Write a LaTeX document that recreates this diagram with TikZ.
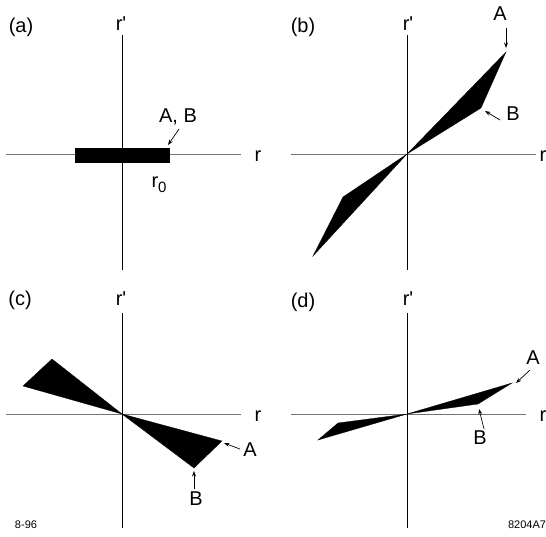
\documentclass[tikz,border=0pt]{standalone}
\usepackage{fontspec}
\setmainfont{Liberation Sans}
\usetikzlibrary{arrows.meta}
\newcommand{\rprime}{r\textquotesingle}
\begin{document}
\begin{tikzpicture}[x=1pt,y=-1pt,
  haxis/.style={draw=black!55,line width=0.9pt},
  vaxis/.style={draw=black,line width=0.8pt},
  blade/.style={fill=black,draw=black,line width=0.3pt,line join=miter},
  lbl/.style={inner sep=0pt,font=\fontsize{20}{22}\selectfont},
  small/.style={inner sep=0pt,font=\fontsize{11}{12}\selectfont},
  arr/.style={draw=black,line width=0.7pt,-{Stealth[length=5.5pt,width=4pt]}}]
\useasboundingbox (0,0) rectangle (546,536);

% ---------- panel (a)
\coordinate (aL) at (6,154); \coordinate (aR) at (241,154);
\coordinate (aT) at (122,35); \coordinate (aB) at (122,270);
\draw[haxis] (aL) -- (aR);
\draw[vaxis] (aT) -- (aB);
\fill[blade] (75,148) rectangle (169,162);
\node[lbl] (atag) at (21,27) {(a)};
\node[lbl] (arp) at (121,24) {\rprime};
\node[lbl] (ar) at (258,156) {r};
\node[lbl] (aAB) at (178,117) {A, B};
\node[lbl] (ar0) at (159,185) {r\raisebox{-0.45ex}{\fontsize{15}{16}\selectfont 0}};
\coordinate (aABs) at (179,129); \coordinate (aABe) at (168,145);
\draw[arr] (aABs) -- (aABe);

% ---------- panel (b)
\coordinate (bL) at (291,154); \coordinate (bR) at (536,154);
\coordinate (bT) at (407,35); \coordinate (bB) at (407,270);
\draw[haxis] (bL) -- (bR);
\draw[vaxis] (bT) -- (bB);
\coordinate (bO) at (407,154);
\coordinate (bA) at (506,52); \coordinate (bBc) at (481,108);
\fill[blade] (bO) -- (bA) -- (bBc) -- cycle;
\fill[blade] (bO) -- (343,197) -- (313,256) -- cycle;
\node[lbl] (btag) at (303,27) {(b)};
\node[lbl] (brp) at (408,24) {\rprime};
\node[lbl] (br) at (543,156) {r};
\node[lbl] (bAl) at (500,14) {A};
\node[lbl] (bBl) at (513,114) {B};
\coordinate (bAs) at (506,28); \coordinate (bAe) at (506,48);
\coordinate (bBs) at (500,120); \coordinate (bBe) at (485,111);
\draw[arr] (bAs) -- (bAe);
\draw[arr] (bBs) -- (bBe);

% ---------- panel (c)
\coordinate (cL) at (6,414); \coordinate (cR) at (241,414);
\coordinate (cT) at (122,313); \coordinate (cB) at (122,528);
\draw[haxis] (cL) -- (cR);
\draw[vaxis] (cT) -- (cB);
\coordinate (cO) at (122,414);
\coordinate (cA) at (222,441); \coordinate (cBc) at (194,468);
\fill[blade] (cO) -- (cA) -- (cBc) -- cycle;
\fill[blade] (cO) -- (23,386) -- (52,359) -- cycle;
\node[lbl] (ctag) at (20,300) {(c)};
\node[lbl] (crp) at (121,299) {\rprime};
\node[lbl] (cr) at (258,416) {r};
\node[lbl] (cAl) at (250,450) {A};
\node[lbl] (cBl) at (196,499) {B};
\coordinate (cAs) at (240,449); \coordinate (cAe) at (224,443);
\coordinate (cBs) at (194,489); \coordinate (cBe) at (194,471);
\draw[arr] (cAs) -- (cAe);
\draw[arr] (cBs) -- (cBe);
\node[small] (date) at (26,525) {8-96};

% ---------- panel (d)
\coordinate (dL) at (291,414); \coordinate (dR) at (526,414);
\coordinate (dT) at (407,313); \coordinate (dB) at (407,528);
\draw[haxis] (dL) -- (dR);
\draw[vaxis] (dT) -- (dB);
\coordinate (dO) at (407,414);
\coordinate (dA) at (512,383); \coordinate (dBc) at (478,404);
\fill[blade] (dO) -- (dA) -- (dBc) -- cycle;
\fill[blade] (dO) -- (338,423) -- (318,440) -- cycle;
\node[lbl] (dtag) at (303,302) {(d)};
\node[lbl] (drp) at (408,299) {\rprime};
\node[lbl] (dr) at (543,416) {r};
\node[lbl] (dAl) at (533,358) {A};
\node[lbl] (dBl) at (480,438) {B};
\coordinate (dAs) at (530,370); \coordinate (dAe) at (516,383);
\coordinate (dBs) at (484,429); \coordinate (dBe) at (479,409);
\draw[arr] (dAs) -- (dAe);
\draw[arr] (dBs) -- (dBe);
\node[small] (fig) at (527,525) {8204A7};
\end{tikzpicture}
\end{document}
